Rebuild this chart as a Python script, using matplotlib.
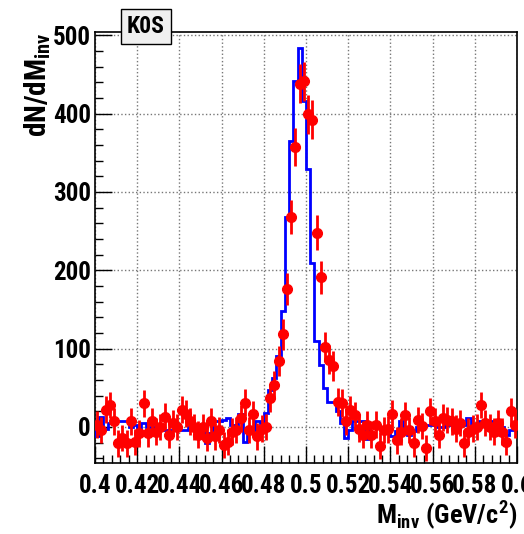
import matplotlib
matplotlib.use("Agg")
import matplotlib.pyplot as plt
import numpy as np
from matplotlib.ticker import MultipleLocator

# invariant mass binning: 100 bins between 0.4 and 0.6 GeV/c^2
edges = np.linspace(0.4, 0.6, 101)
centers = 0.5 * (edges[:-1] + edges[1:])

# K0S signal, data points (background subtracted)
data = [3, -4, 22, 28, 7, -21, -14, -21, 7, -19,
        -8, 30, -8, 7, -6, 0, 13, -10, 5, 0,
        22, 17, 7, 0, -10, 0, -14, 7, -12, -4,
        -23, -19, -6, -4, 11, 31, -4, 16, -12, -2,
        0, 37, 54, 84, 118, 176, 268, 357, 438, 441,
        399, 392, 248, 191, 102, 86, 78, 32, 31, 7,
        22, 15, -2, -10, 3, -10, 3, -24, -4, -3,
        17, -17, -6, 15, -4, -21, 9, 1, -27, 20,
        7, -10, 12, 9, 7, -2, 5, -21, -6, -2,
        0, 28, 5, 0, -6, 5, -6, -19, 20, 3]
data_err = [17] * 41 + [18, 18, 19, 20, 21, 22, 24, 25, 25, 25,
                        25, 22, 21, 19, 19, 19, 18, 18] + [17] * 41

# simulated reference histogram
mc = [-12, 13, -3, 5, 7, 7, 7, 7, 0, 2,
      -4, 5, 0, 0, -8, -4, -4, -4, -4, -4,
      -4, -4, 0, 2, 2, -2, -21, -8, 7, 7,
      9, 12, 2, 3, 17, -19, -4, -4, 7, 5,
      18, 47, 62, 90, 148, 268, 365, 442, 483, 416,
      329, 209, 110, 79, 50, 32, 32, 20, 5, -14,
      -4, 7, 7, 7, -16, 0, 0, 0, 0, 0,
      -12, -5, 7, -8, -10, -5, 0, 3, 3, 3,
      3, 0, 0, 2, 2, 2, 2, 2, 12, 3,
      3, 7, 7, 7, 7, 7, 0, -10, -4, 3]

xticklabels = ['0.4', '0.42', '0.44', '0.46', '0.48', '0.5',
               '0.52', '0.54', '0.56', '0.58', '0.6']

plt.rcParams['font.family'] = ['Roboto Condensed', 'DejaVu Sans']
plt.rcParams['font.stretch'] = 'condensed'
plt.rcParams['font.weight'] = 'bold'
plt.rcParams['axes.labelweight'] = 'bold'
plt.rcParams['mathtext.fontset'] = 'custom'
plt.rcParams['mathtext.rm'] = 'Roboto Condensed:bold'
plt.rcParams['mathtext.bf'] = 'Roboto Condensed:bold'

fig = plt.figure(figsize=(5.24, 5.34), dpi=100)
ax = fig.add_axes([0.1813, 0.133, 0.8053, 0.807])

ax.stairs(mc, edges, color='#0000ff', linewidth=2, zorder=3)
ax.errorbar(centers, data, yerr=data_err, fmt='o', color='#ff0000',
            markersize=7, elinewidth=2, capsize=0, zorder=4)

ax.set_xlim(0.4, 0.6)
ax.set_ylim(-46, 504)
ax.xaxis.set_minor_locator(MultipleLocator(0.004))
ax.yaxis.set_major_locator(MultipleLocator(100))
ax.yaxis.set_minor_locator(MultipleLocator(20))
ax.set_xticks(np.linspace(0.4, 0.6, 11))
ax.set_xticklabels(xticklabels)
ax.tick_params(which='both', direction='in', top=False, right=False,
               labelsize=18, width=1)
ax.tick_params(which='major', length=12)
ax.tick_params(which='minor', length=6)
ax.tick_params(axis='x', which='major', pad=8)
ax.tick_params(axis='y', which='major', pad=3)
ax.grid(True, which='major', linestyle=':', color='#777777', linewidth=1)

ax.set_ylabel(r'dN/dM$_{\mathbf{inv}}$', fontsize=21, loc='top')
ax.yaxis.set_label_coords(-0.1, 1.0)
ax.set_xlabel(r'M$_{\mathbf{inv}}$ (GeV/c$^{\mathbf{2}}$)', fontsize=19, loc='right')
ax.xaxis.set_label_coords(1.0, -0.082)

for s in ax.spines.values():
    s.set_linewidth(1.2)

ax.text(0.121, 1.012, 'K0S', transform=ax.transAxes, fontsize=17,
        ha='center', va='center', zorder=6,
        bbox=dict(boxstyle='square,pad=0.25', facecolor='#f0f0f0',
                  edgecolor='black', linewidth=1))

fig.savefig('out.png', dpi=100)
